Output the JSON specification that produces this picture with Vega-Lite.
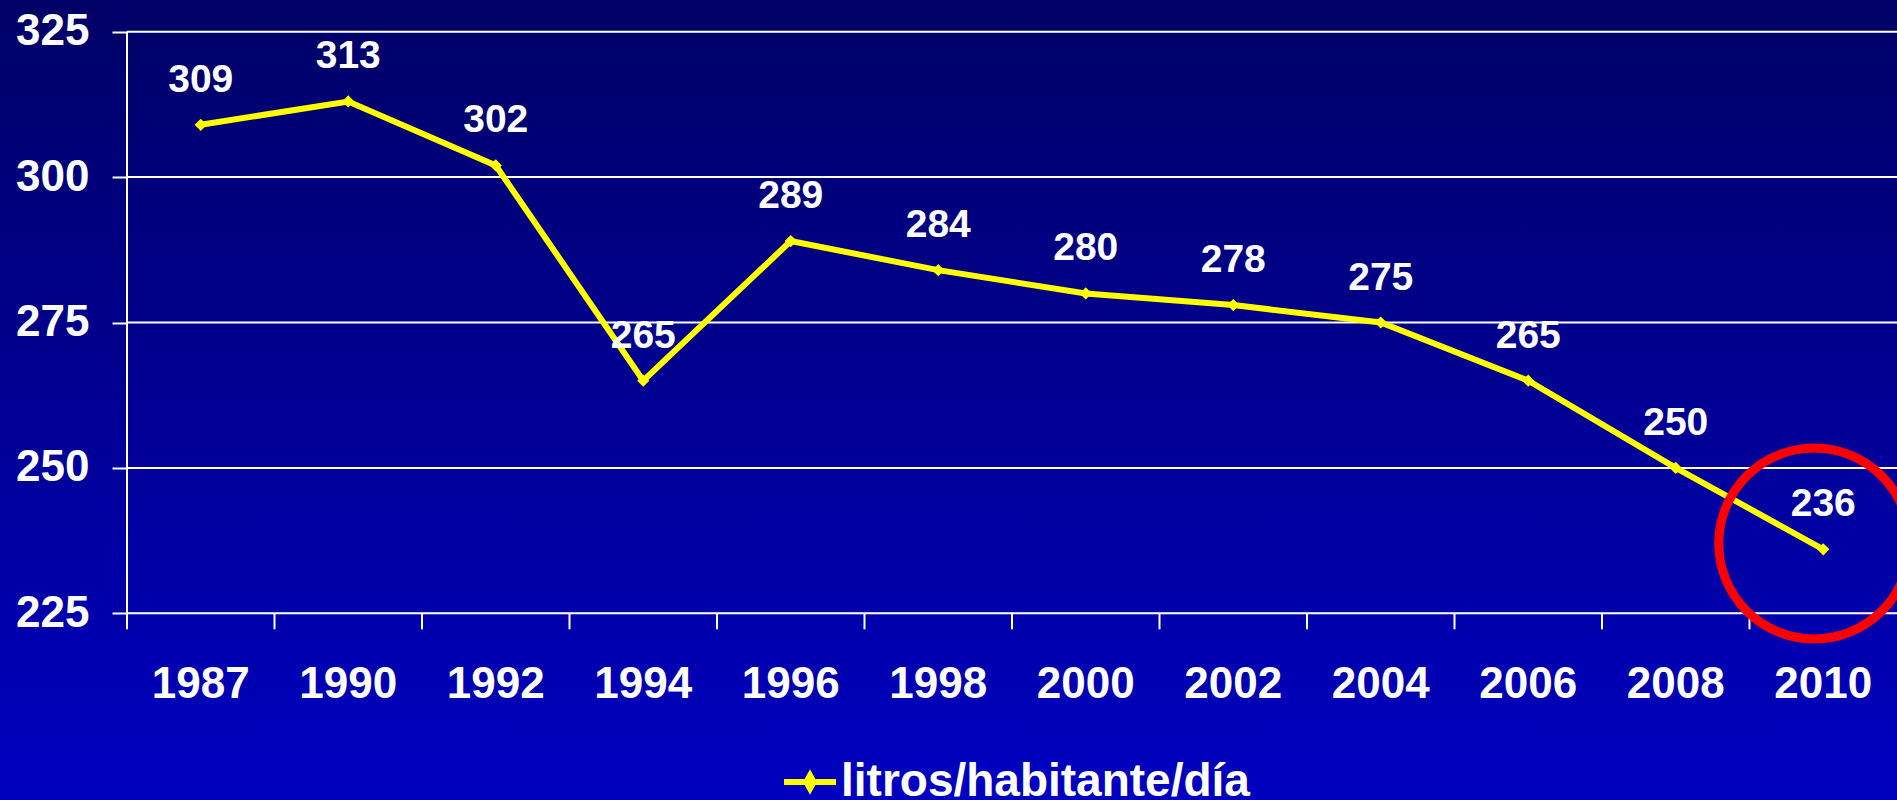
{
  "$schema": "https://vega.github.io/schema/vega-lite/v6.json",
  "width": 1897,
  "height": 800,
  "autosize": {"type": "none"},
  "padding": 0,
  "background": "#000099",
  "config": {"view": {"stroke": null}, "font": "Liberation Sans"},
  "datasets": {
    "main": [
      {"year": "1987", "value": 309},
      {"year": "1990", "value": 313},
      {"year": "1992", "value": 302},
      {"year": "1994", "value": 265},
      {"year": "1996", "value": 289},
      {"year": "1998", "value": 284},
      {"year": "2000", "value": 280},
      {"year": "2002", "value": 278},
      {"year": "2004", "value": 275},
      {"year": "2006", "value": 265},
      {"year": "2008", "value": 250},
      {"year": "2010", "value": 236}
    ],
    "grid": [{"g": 225}, {"g": 250}, {"g": 275}, {"g": 300}, {"g": 325}],
    "mark": [{"year": "2010", "value": 237}]
  },
  "layer": [
    {
      "data": {"values": [{}]},
      "mark": {
        "type": "rect",
        "fill": {
          "gradient": "linear",
          "x1": 0, "y1": 0, "x2": 0, "y2": 1,
          "stops": [
            {"offset": 0, "color": "#000066"},
            {"offset": 1, "color": "#0000C0"}
          ]
        }
      },
      "encoding": {}
    },
    {
      "data": {"name": "grid"},
      "mark": {"type": "rule", "color": "white", "strokeWidth": 2},
      "encoding": {
        "y": {
          "field": "g",
          "type": "quantitative",
          "scale": {"domain": [192.9, 330.45], "nice": false, "zero": false},
          "axis": {
            "title": null,
            "values": [225, 250, 275, 300, 325],
            "offset": -127,
            "domain": false,
            "grid": false,
            "tickSize": 15,
            "tickWidth": 2,
            "tickColor": "white",
            "labelColor": "white",
            "labelFont": "Liberation Sans",
            "labelFontWeight": "bold",
            "labelFontSize": 44,
            "labelPadding": 23,
            "zindex": 1
          }
        },
        "x": {"datum": "1987", "bandPosition": 0},
        "x2": {"value": "width"}
      }
    },
    {
      "data": {"values": [{}]},
      "mark": {"type": "rule", "color": "white", "strokeWidth": 2},
      "encoding": {
        "x": {"datum": "1987", "bandPosition": 0},
        "y": {"datum": 225, "type": "quantitative"},
        "y2": {"datum": 325}
      }
    },
    {
      "data": {"name": "main"},
      "mark": {"type": "rule", "color": "white", "strokeWidth": 2},
      "encoding": {
        "x": {"field": "year", "type": "nominal", "bandPosition": 0},
        "y": {"datum": 225, "type": "quantitative"},
        "y2": {"datum": 222.25}
      }
    },
    {
      "data": {"name": "main"},
      "mark": {
        "type": "line",
        "strokeWidth": 6,
        "point": {"shape": "diamond", "size": 150, "filled": true, "color": "#FFFF00"}
      },
      "encoding": {
        "x": {
          "field": "year",
          "type": "nominal",
          "scale": {
            "type": "band",
            "domain": ["1987", "1990", "1992", "1994", "1996", "1998", "2000", "2002", "2004", "2006", "2008", "2010"],
            "paddingInner": 0,
            "paddingOuter": 0.4305,
            "align": 1
          },
          "axis": {
            "title": null,
            "orient": "bottom",
            "offset": -186.7,
            "domain": false,
            "grid": false,
            "ticks": false,
            "tickSize": 0,
            "labelColor": "white",
            "labelFont": "Liberation Sans",
            "labelFontWeight": "bold",
            "labelFontSize": 44,
            "labelBaseline": "alphabetic",
            "labelAlign": "center",
            "labelPadding": 84,
            "labelAngle": 0,
            "labelOverlap": false,
            "zindex": 1
          }
        },
        "y": {"field": "value", "type": "quantitative", "title": null},
        "color": {
          "datum": "litros/habitante/día",
          "scale": {"range": ["#FFFF00"]},
          "legend": {
            "title": null,
            "orient": "none",
            "legendX": 781,
            "legendY": 753,
            "symbolType": "M-1,0L1,0M0,-0.25L0.14,0L0,0.25L-0.14,0Z",
            "symbolSize": 2704,
            "symbolStrokeWidth": 6,
            "symbolFillColor": "#FFFF00",
            "symbolStrokeColor": "#FFFF00",
            "labelColor": "white",
            "labelFont": "Liberation Sans",
            "labelFontWeight": "bold",
            "labelFontSize": 46,
            "labelOffset": 2,
            "labelLimit": 0,
            "padding": 0,
            "zindex": 1,
            "encode": {"symbols": {"update": {"fill": {"value": "#FFFF00"}, "stroke": {"value": "#FFFF00"}}}}
          }
        }
      }
    },
    {
      "data": {"name": "main"},
      "mark": {
        "type": "text",
        "color": "white",
        "font": "Liberation Sans",
        "fontWeight": "bold",
        "fontSize": 39,
        "baseline": "alphabetic",
        "dy": -33
      },
      "encoding": {
        "x": {"field": "year", "type": "nominal"},
        "y": {"field": "value", "type": "quantitative"},
        "text": {"field": "value", "type": "quantitative"}
      }
    },
    {
      "data": {"name": "mark"},
      "mark": {
        "type": "point",
        "shape": "circle",
        "size": 36481,
        "filled": false,
        "stroke": "#FF0000",
        "strokeWidth": 9,
        "opacity": 1,
        "xOffset": -9
      },
      "encoding": {
        "x": {"field": "year", "type": "nominal"},
        "y": {"field": "value", "type": "quantitative"}
      }
    }
  ]
}
